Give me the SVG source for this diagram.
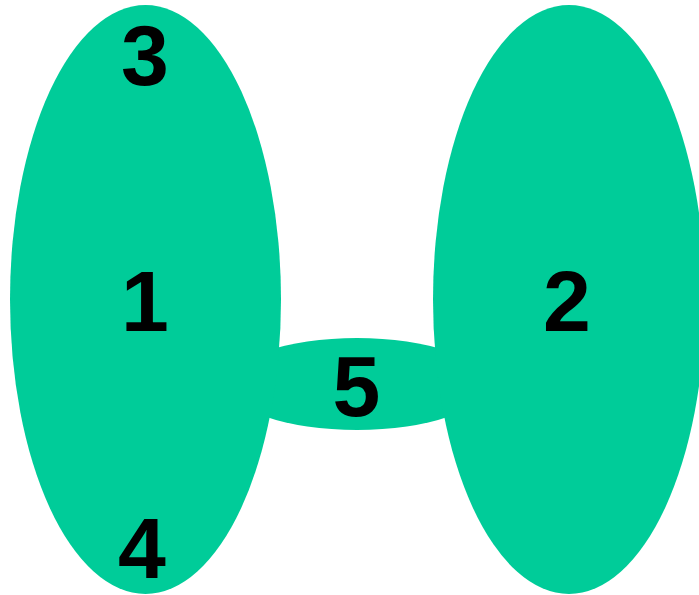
<svg xmlns="http://www.w3.org/2000/svg" width="699" height="595" viewBox="0 0 699 595">
<style>
.n{fill:#00CC99;stroke:none}
.t{font-family:"Liberation Sans",Arial,sans-serif;font-weight:bold;font-size:86px;fill:#000;text-anchor:middle}
</style>
<rect width="699" height="595" fill="#fff"/>
<g id="connectors"></g>
<g id="node5"><ellipse class="n" cx="357" cy="384" rx="130" ry="46"/></g>
<g id="node1"><ellipse class="n" cx="145.5" cy="299.5" rx="135.5" ry="294.5"/></g>
<g id="node2"><ellipse class="n" cx="569" cy="299.5" rx="136" ry="294.5"/></g>
<g id="labels">
<text class="t" x="145" y="331">1</text>
<text class="t" x="567" y="331">2</text>
<text class="t" x="145" y="85">3</text>
<text class="t" x="142" y="578">4</text>
<text class="t" x="356.5" y="416">5</text>
</g>
</svg>
